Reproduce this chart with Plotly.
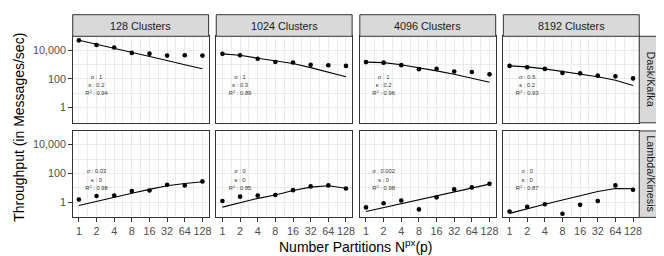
import math
import plotly.graph_objects as go

# ---------------- data ----------------
partitions = [1, 2, 4, 8, 16, 32, 64, 128]
cluster_labels = ["128 Clusters", "1024 Clusters", "4096 Clusters", "8192 Clusters"]
system_labels = ["Dask/Kafka", "Lambda/Kinesis"]
y_tick_vals = [1, 100, 10000]
y_tick_text = ["1", "100", "10,000"]

# Dask/Kafka observed throughput (messages/sec)
dask_obs_128 = [46800, 22400, 14800, 6300, 5600, 4100, 4300, 4100]
dask_obs_1024 = [5400, 4300, 2500, 1480, 1350, 930, 870, 790]
dask_obs_4096 = [1450, 1320, 890, 470, 500, 320, 300, 205]
dask_obs_8192 = [790, 630, 490, 257, 240, 166, 148, 107]
# Dask/Kafka fitted USL curve
dask_fit_128 = [46800, 25100, 13200, 6800, 3550, 1860, 950, 500]
dask_fit_1024 = [5400, 4300, 2700, 1740, 1150, 600, 300, 140]
dask_fit_4096 = [1450, 1320, 950, 600, 355, 205, 107, 58]
dask_fit_8192 = [790, 680, 490, 316, 219, 141, 79, 34]

# Lambda/Kinesis observed throughput
lambda_obs_128 = [1.55, 2.7, 2.9, 6.0, 6.6, 16.2, 14.8, 28.0]
lambda_obs_1024 = [1.23, 2.45, 2.9, 3.16, 6.9, 12.6, 14.8, 9.1]
lambda_obs_4096 = [0.44, 0.85, 1.32, 0.32, 2.2, 7.8, 10.7, 19.0]
lambda_obs_8192 = [0.23, 0.48, 0.72, 0.16, 0.66, 1.23, 14.8, 7.4]
# Lambda/Kinesis fitted USL curve
lambda_fit_128 = [0.59, 1.17, 2.2, 4.2, 7.8, 14.1, 20.0, 26.3]
lambda_fit_1024 = [0.46, 0.89, 1.86, 3.16, 6.6, 11.2, 14.1, 9.5]
lambda_fit_4096 = [0.23, 0.43, 0.81, 1.51, 2.9, 5.4, 10.2, 18.2]
lambda_fit_8192 = [0.17, 0.33, 0.72, 1.45, 2.9, 5.6, 9.1, 8.7]

# USL parameters per panel
dask_sigma = ["1", "1", "1", "0.6"]
dask_kappa = ["0.2", "0.3", "0.2", "0.2"]
dask_r2 = ["0.94", "0.89", "0.96", "0.93"]
lambda_sigma = ["0.03", "0", "0.002", "0"]
lambda_kappa = ["0", "0", "0", "0"]
lambda_r2 = ["0.98", "0.85", "0.98", "0.87"]

obs = [[dask_obs_128, dask_obs_1024, dask_obs_4096, dask_obs_8192],
       [lambda_obs_128, lambda_obs_1024, lambda_obs_4096, lambda_obs_8192]]
fit = [[dask_fit_128, dask_fit_1024, dask_fit_4096, dask_fit_8192],
       [lambda_fit_128, lambda_fit_1024, lambda_fit_4096, lambda_fit_8192]]
sig = [dask_sigma, lambda_sigma]
kap = [dask_kappa, lambda_kappa]
r2 = [dask_r2, lambda_r2]

# ---------------- layout constants ----------------
W, H = 664, 256
FONT = "Liberation Sans, Arial, sans-serif"
col_left = [65, 209.2, 353.4, 497.6]
panel_w = 136.5
row_top = [28.3, 122.9]
panel_h = 86.5
strip_top = 6.7
strip_right = 657.7
LABEL_X = 2
LABEL_Y = [126, 33, 8.9]

x_range = [math.log10(2 ** -0.35), math.log10(2 ** 7.35)]
y_range = [-1.05, 4.95]
x_minor = [math.sqrt(a * b) for a, b in zip([0.5] + partitions, partitions + [256])]
y_minor = [0.1, 10, 1000, 100000]

grid_col = "#EBEBEB"
border_col = "#333333"

fig = go.Figure()
shapes = []
annotations = []

def px_x(v):
    return v / W

def px_y(v):
    return 1 - v / H

for r in range(2):
    for c in range(4):
        idx = r * 4 + c + 1
        xa = "x" if idx == 1 else f"x{idx}"
        ya = "y" if idx == 1 else f"y{idx}"
        x0 = col_left[c]
        x1 = x0 + panel_w
        y0 = row_top[r]
        y1 = y0 + panel_h
        show_x = r == 1
        show_y = c == 0
        fig.layout[f"xaxis{'' if idx == 1 else idx}"] = dict(
            domain=[px_x(x0), px_x(x1)], anchor=ya, type="log", range=x_range,
            tickmode="array", tickvals=partitions, ticktext=[str(p) for p in partitions],
            showgrid=True, gridcolor=grid_col, gridwidth=1,
            minor=dict(tickmode="array", tickvals=x_minor, showgrid=True,
                       gridcolor=grid_col, gridwidth=0.5, ticks=""),
            showline=True, mirror=True, linecolor=border_col, linewidth=1,
            zeroline=False, ticks="outside" if show_x else "", ticklen=3.5,
            tickwidth=1, tickcolor=border_col, showticklabels=show_x,
            tickfont=dict(family=FONT, size=10.8, color="#4D4D4D"),
        )
        fig.layout[f"yaxis{'' if idx == 1 else idx}"] = dict(
            domain=[px_y(y1), px_y(y0)], anchor=xa, type="log", range=y_range,
            tickmode="array", tickvals=y_tick_vals, ticktext=y_tick_text,
            showgrid=True, gridcolor=grid_col, gridwidth=1,
            minor=dict(tickmode="array", tickvals=y_minor, showgrid=True,
                       gridcolor=grid_col, gridwidth=0.5, ticks=""),
            showline=True, mirror=True, linecolor=border_col, linewidth=1,
            zeroline=False, ticks="outside" if show_y else "", ticklen=3.5,
            tickwidth=1, tickcolor=border_col, showticklabels=show_y,
            tickfont=dict(family=FONT, size=10.8, color="#4D4D4D"),
        )
        fig.add_trace(go.Scatter(
            x=partitions, y=fit[r][c], mode="lines", xaxis=xa, yaxis=ya,
            line=dict(color="black", width=1.1), hoverinfo="skip"))
        fig.add_trace(go.Scatter(
            x=partitions, y=obs[r][c], mode="markers", xaxis=xa, yaxis=ya,
            marker=dict(color="black", size=4.6)))
        labels = [f"<i>σ</i> : {sig[r][c]}", f"κ : {kap[r][c]}",
                  f"R<sup>2</sup> : {r2[r][c]}"]
        fig.add_trace(go.Scatter(
            x=[LABEL_X] * 3, y=LABEL_Y, mode="text", text=labels,
            textposition="middle center", xaxis=xa, yaxis=ya,
            textfont=dict(family=FONT, size=5.8, color="#333333"),
            hoverinfo="skip"))

# top strips
for c in range(4):
    x0 = col_left[c]
    x1 = x0 + panel_w
    shapes.append(dict(type="rect", xref="paper", yref="paper",
                       x0=px_x(x0), x1=px_x(x1), y0=px_y(row_top[0]), y1=px_y(strip_top),
                       fillcolor="#D9D9D9", line=dict(color=border_col, width=1)))
    annotations.append(dict(xref="paper", yref="paper", x=px_x((x0 + x1) / 2),
                            y=px_y((strip_top + row_top[0]) / 2), text=cluster_labels[c],
                            showarrow=False, xanchor="center", yanchor="middle",
                            font=dict(family=FONT, size=10.8, color="#1A1A1A")))
# right strips
sx0 = col_left[3] + panel_w
for r in range(2):
    y0 = row_top[r]
    y1 = y0 + panel_h
    shapes.append(dict(type="rect", xref="paper", yref="paper",
                       x0=px_x(sx0), x1=px_x(strip_right), y0=px_y(y1), y1=px_y(y0),
                       fillcolor="#D9D9D9", line=dict(color=border_col, width=1)))
    annotations.append(dict(xref="paper", yref="paper", x=px_x((sx0 + strip_right) / 2),
                            y=px_y((y0 + y1) / 2), text=system_labels[r], textangle=90,
                            showarrow=False, xanchor="center", yanchor="middle",
                            font=dict(family=FONT, size=10.8, color="#1A1A1A")))

# axis titles
annotations.append(dict(xref="paper", yref="paper",
                        x=px_x((col_left[0] + col_left[3] + panel_w) / 2), y=px_y(238),
                        text="Number Partitions N<sup>px</sup>(p)", showarrow=False,
                        xanchor="center", yanchor="middle",
                        font=dict(family=FONT, size=14, color="black")))
annotations.append(dict(xref="paper", yref="paper", x=px_x(11),
                        y=px_y((row_top[0] + row_top[1] + panel_h) / 2),
                        text="Throughput (in Messages/sec)", textangle=-90, showarrow=False,
                        xanchor="center", yanchor="middle",
                        font=dict(family=FONT, size=14, color="black")))

fig.update_layout(width=W, height=H, margin=dict(l=0, r=0, t=0, b=0),
                  paper_bgcolor="white", plot_bgcolor="white", showlegend=False,
                  shapes=shapes, annotations=annotations,
                  font=dict(family=FONT))

fig.write_html("out.html")
